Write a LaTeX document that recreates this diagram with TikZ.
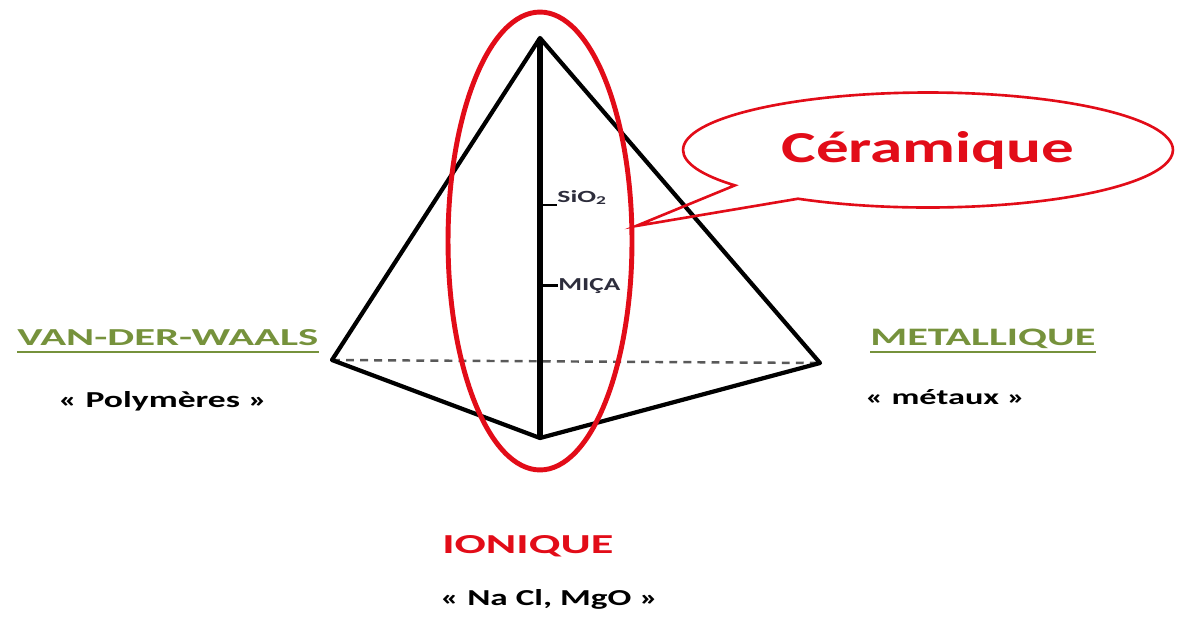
\documentclass[tikz,border=0pt]{standalone}
\usepackage{fontspec}
\setmainfont{Carlito}
\usetikzlibrary{shapes.geometric,shapes.callouts}
\definecolor{ionRed}{RGB}{226,12,24}
\definecolor{bondGreen}{RGB}{118,146,60}
\definecolor{labelGray}{RGB}{45,45,60}

\begin{document}
\begin{tikzpicture}[x=0.02cm, y=-0.02cm,
    pyredge/.style={line width=2.4pt, line join=round},
    textmark/.style={inner sep=0pt, anchor=base west, font=\bfseries}]
  \useasboundingbox (0,0) rectangle (1179,626);

  % Pyramid corners
  \coordinate (apex) at (540,38);
  \coordinate (left) at (332,360);
  \coordinate (right) at (820,363);
  \coordinate (front) at (540,438);

  % Hidden back edge
  \draw[black!65, line width=1.4pt, dash pattern=on 4.5pt off 3.5pt] (left) -- (right);

  % Visible edges
  \draw[pyredge] (left) -- (apex) -- (right) -- (front) -- cycle;
  \draw[pyredge, line width=3.6pt] (apex) -- (front);

  % Marks on the ionic edge
  \node[textmark, text=labelGray] (sio2) at (557,202) {\resizebox{1.0cm}{0.24cm}{SiO\textsubscript{2}}};
  \node[textmark, text=labelGray] (mica) at (558,290) {\resizebox{1.24cm}{0.24cm}{MIÇA}};
  \draw[line width=1.6pt] (sio2.south west -| apex) -- (sio2.south west);
  \draw[line width=1.6pt] (mica.west -| apex) -- (mica.west);

  % Ionic zone
  \node[ellipse, draw=ionRed, line width=2.8pt, minimum width=3.68cm, minimum height=9.16cm] (ionzone) at (540,241) {};

  % Callout
  \node[ellipse callout, draw=ionRed, line width=1.5pt, minimum width=9.8cm, minimum height=2.3cm,
        callout absolute pointer={(636,226)}, callout pointer arc=20,
        text=ionRed, font=\bfseries] (ceram) at (928,150) {\resizebox{5.86cm}{0.62cm}{Céramique}};

  % Bond labels
  \node[textmark, text=bondGreen] (vdw) at (17,345) {\resizebox{6.02cm}{0.32cm}{VAN-DER-WAALS}};
  \draw[bondGreen, line width=1.2pt] ([yshift=-0.14cm]vdw.base west) -- ([yshift=-0.14cm]vdw.base east);
  \node[textmark] (poly) at (58,407) {\resizebox{4.18cm}{0.32cm}{« Polymères »}};

  \node[textmark, text=bondGreen] (metal) at (870,345) {\resizebox{4.5cm}{0.33cm}{METALLIQUE}};
  \draw[bondGreen, line width=1.2pt] ([yshift=-0.14cm]metal.base west) -- ([yshift=-0.14cm]metal.base east);
  \node[textmark] (metaux) at (865,404) {\resizebox{3.2cm}{0.3cm}{« métaux »}};

  \node[textmark, text=ionRed] (ionic) at (442,553) {\resizebox{3.42cm}{0.36cm}{IONIQUE}};
  \node[textmark] (nacl) at (440,605) {\resizebox{4.36cm}{0.32cm}{« Na Cl, MgO »}};
\end{tikzpicture}
\end{document}
